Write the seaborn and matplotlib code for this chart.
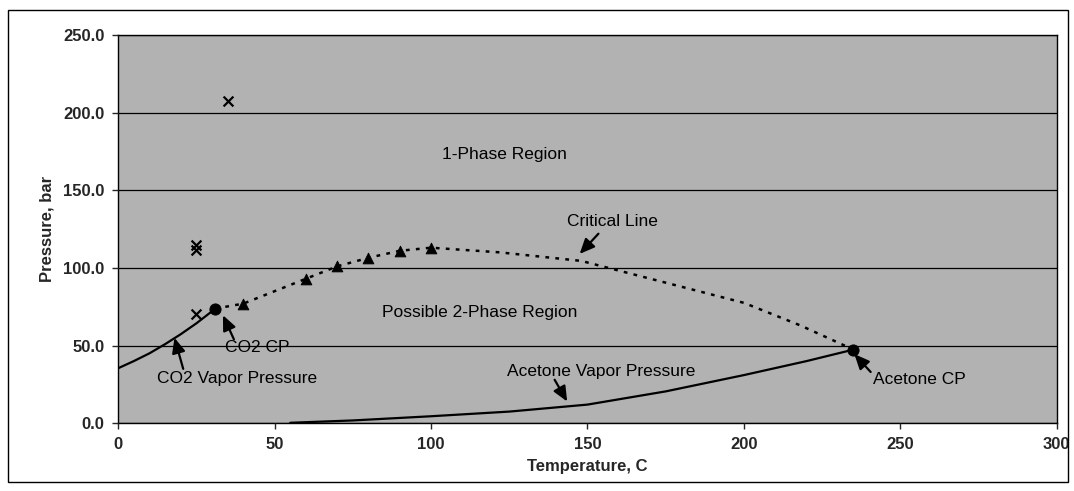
import numpy as np
import pandas as pd
import matplotlib
matplotlib.use('Agg')
import matplotlib.pyplot as plt
import seaborn as sns

# values
co2_vp_t = [0, 5, 10, 15, 20, 25, 31.1]
co2_vp_p = [35.4, 40.0, 45.0, 50.9, 57.3, 64.3, 73.8]

crit_t = [31.1, 40, 60, 70, 80, 90, 100, 122, 148, 174, 200, 218, 235]
crit_p = [73.8, 77.0, 93.0, 101.0, 106.5, 111.0, 113.0, 110.0, 104.5, 91.0, 77.5, 63.0, 47.4]

tri_t = [40, 60, 70, 80, 90, 100]
tri_p = [77.0, 93.0, 101.0, 106.5, 111.0, 113.0]

ace_vp_t = [55, 75, 100, 125, 150, 175, 200, 220, 235]
ace_vp_p = [0.3, 1.8, 4.5, 7.5, 12.0, 20.5, 31.0, 40.0, 47.4]

cp_t = [31.1, 235]
cp_p = [73.8, 47.4]

x_t = [35, 25, 25, 25]
x_p = [207.5, 111.5, 114.5, 70.5]

sns.set_style('ticks')
plt.rcParams['font.family'] = ['Liberation Sans', 'DejaVu Sans']

fig, ax = plt.subplots(figsize=(10.74, 4.91), dpi=100)
fig.subplots_adjust(left=0.11, right=0.984, top=0.929, bottom=0.138)
ax.set_facecolor('#b2b2b2')

co2 = pd.DataFrame({'T': co2_vp_t, 'P': co2_vp_p})
crit = pd.DataFrame({'T': crit_t, 'P': crit_p})
ace = pd.DataFrame({'T': ace_vp_t, 'P': ace_vp_p})

sns.lineplot(data=co2, x='T', y='P', ax=ax, color='black', lw=1.6, sort=False)
sns.lineplot(data=crit, x='T', y='P', ax=ax, color='black', lw=1.8, ls=(0, (1.5, 2.5)), sort=False)
sns.lineplot(data=ace, x='T', y='P', ax=ax, color='black', lw=1.6, sort=False)
sns.scatterplot(x=tri_t, y=tri_p, ax=ax, marker='^', s=60, color='black', edgecolor='black', zorder=5)
sns.scatterplot(x=cp_t, y=cp_p, ax=ax, marker='o', s=65, color='black', edgecolor='black', zorder=5)
sns.scatterplot(x=x_t, y=x_p, ax=ax, marker='x', s=50, color='black', linewidth=1.6, zorder=5)

ax.set_xlim(0, 300)
ax.set_ylim(0, 250)
ax.set_xticks(range(0, 301, 50))
ax.set_yticks(range(0, 251, 50))
ax.set_yticklabels([f'{v:.1f}' for v in range(0, 251, 50)])
ax.yaxis.grid(True, color='black', lw=0.9)
ax.set_axisbelow(False)
for s in ax.spines.values():
    s.set_color('black')
    s.set_linewidth(1.0)
ax.tick_params(axis='both', labelsize=12, length=4, width=1, direction='out', pad=6)
for lab in ax.get_xticklabels() + ax.get_yticklabels():
    lab.set_fontweight('bold')

ax.set_xlabel('Temperature, C', fontsize=12, fontweight='bold', labelpad=5)
ax.set_ylabel('Pressure, bar', fontsize=12, fontweight='bold', labelpad=6)

tk = dict(fontsize=12.5, color='black', ha='center', va='center')
ax.text(123.5, 173, '1-Phase Region', **tk)
ax.text(115.5, 71, 'Possible 2-Phase Region', **tk)

arr = dict(arrowstyle='-|>,head_length=0.9,head_width=0.4', color='black', lw=1.6,
           shrinkA=0, shrinkB=0)
ax.text(158, 130, 'Critical Line', **tk)
ax.annotate('', xy=(147.5, 109), xytext=(153.5, 122), arrowprops=arr)
ax.text(44.5, 48.5, 'CO2 CP', **tk)
ax.annotate('', xy=(33.5, 69.5), xytext=(37, 54), arrowprops=arr)
ax.text(38, 28.5, 'CO2 Vapor Pressure', **tk)
ax.annotate('', xy=(18.0, 55), xytext=(20.8, 35), arrowprops=arr)
ax.text(154.5, 33, 'Acetone Vapor Pressure', **tk)
ax.annotate('', xy=(143.5, 14.0), xytext=(139.5, 28), arrowprops=arr)
ax.text(256, 28, 'Acetone CP', **tk)
ax.annotate('', xy=(235.3, 44.5), xytext=(240.5, 33), arrowprops=arr)

# outer chart border
fig.patches.append(plt.Rectangle((0.0075, 0.018), 0.987, 0.962, transform=fig.transFigure,
                                 fill=False, edgecolor='black', lw=1.0))

fig.savefig('out.png', dpi=100)
